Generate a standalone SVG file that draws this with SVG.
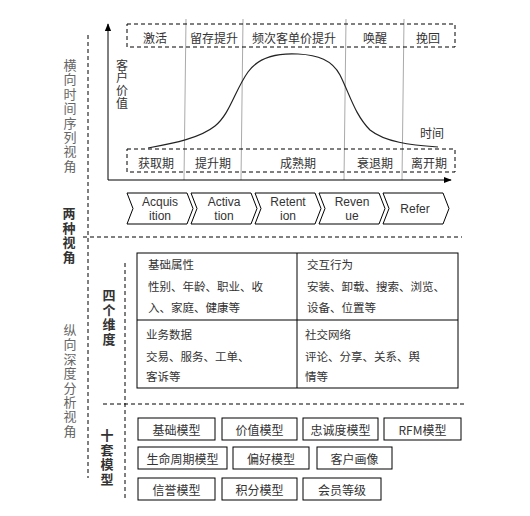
<svg xmlns="http://www.w3.org/2000/svg" width="530" height="516" viewBox="0 0 530 516">
<defs>
<marker id="ah" viewBox="0 0 10 10" refX="9" refY="5" markerWidth="8" markerHeight="8" markerUnits="userSpaceOnUse" orient="auto">
<path d="M0,1 L10,5 L0,9 Z" fill="#000"/>
</marker>
<style>
text{font-family:"Noto Sans CJK SC","Noto Sans",sans-serif;dominant-baseline:central;}
.t{font-size:12px;fill:#333;text-anchor:middle;}
.tl{font-size:11.5px;fill:#333;}
.v{writing-mode:vertical-rl;text-anchor:start;}
.side{font-size:13px;fill:#666;letter-spacing:1.4px;}
.bold{font-size:13px;fill:#333;font-weight:bold;letter-spacing:1.6px;}
.en{font-family:"Liberation Sans",Arial,sans-serif;font-size:12px;fill:#333;text-anchor:middle;}
.dash{fill:none;stroke:#000;stroke-width:1;stroke-dasharray:4,3;}
.box{fill:#fff;stroke:#000;stroke-width:1;}
.gray{stroke:#aaa;stroke-width:1;fill:none;}
</style>
</defs>
<rect width="530" height="516" fill="#fff"/>

<g id="guides">
<line class="dash" x1="88" y1="35" x2="88" y2="478"/>
<line class="dash" x1="83" y1="237" x2="462" y2="237"/>
<line class="dash" x1="103" y1="404" x2="465" y2="404"/>
<line class="dash" x1="125" y1="263" x2="125" y2="498"/>
</g>

<g id="side-labels">
<text class="v side" x="70" y="58.5">横向时间序列视角</text>
<text class="v side" x="70" y="323.5">纵向深度分析视角</text>
<text class="v bold" x="69" y="206.5">两种视角</text>
<text class="v bold" x="109" y="288.5">四个维度</text>
<text class="v bold" x="107" y="428.5">十套模型</text>
</g>

<g id="chart">
<line class="gray" x1="186" y1="19" x2="184" y2="180"/>
<line class="gray" x1="243" y1="19" x2="241" y2="180"/>
<line class="gray" x1="346" y1="19" x2="344" y2="180"/>
<line class="gray" x1="404" y1="19" x2="402" y2="180"/>
<rect class="dash" x="127" y="24" width="328" height="23"/>
<rect class="dash" x="127" y="149" width="328" height="23"/>
<path d="M148,148 C175,143 200,138 215,126 C230,114 235,90 248,72 C260,55 280,53 298,54 C318,55 332,60 340,75 C350,95 355,115 370,130 C385,142 410,145 438,147" fill="none" stroke="#222" stroke-width="1.2"/>
<g class="t">
<text x="155" y="37">激活</text>
<text x="214" y="37">留存提升</text>
<text x="294" y="37">频次客单价提升</text>
<text x="375" y="37">唤醒</text>
<text x="428" y="37">挽回</text>
<text x="156" y="162">获取期</text>
<text x="213" y="162">提升期</text>
<text x="298" y="162">成熟期</text>
<text x="375" y="162">衰退期</text>
<text x="429" y="162">离开期</text>
<text x="432" y="132">时间</text>
</g>
<text class="v" x="122" y="59" style="font-size:12px;fill:#333;letter-spacing:0.8px">客户价值</text>
</g>

<g id="connectors">
<line x1="108" y1="180" x2="108" y2="24" stroke="#000" stroke-width="1" marker-end="url(#ah)"/>
<line x1="108" y1="180" x2="451" y2="180" stroke="#000" stroke-width="1" marker-end="url(#ah)"/>
</g>

<g id="stages">
<g id="s1"><path class="box" d="M127,193 L187,193 L193,208.5 L187,224 L127,224 L133,208.5 Z"/><text class="en" x="160" y="201.5">Acquis<tspan x="160" dy="14.5">ition</tspan></text></g>
<g id="s2"><path class="box" d="M191,193 L251,193 L257,208.5 L251,224 L191,224 L197,208.5 Z"/><text class="en" x="224" y="201.5">Activa<tspan x="224" dy="14.5">tion</tspan></text></g>
<g id="s3"><path class="box" d="M255,193 L315,193 L321,208.5 L315,224 L255,224 L261,208.5 Z"/><text class="en" x="288" y="201.5">Retent<tspan x="288" dy="14.5">ion</tspan></text></g>
<g id="s4"><path class="box" d="M319,193 L379,193 L385,208.5 L379,224 L319,224 L325,208.5 Z"/><text class="en" x="352" y="201.5">Reven<tspan x="352" dy="14.5">ue</tspan></text></g>
<g id="s5"><path class="box" d="M383,193 L443,193 L449,208.5 L443,224 L383,224 L389,208.5 Z"/><text class="en" x="415" y="209">Refer</text></g>
</g>

<g id="dimensions">
<rect class="box" x="137" y="253" width="321" height="135"/>
<line x1="297" y1="253" x2="297" y2="388" stroke="#000"/>
<line x1="137" y1="320" x2="458" y2="320" stroke="#000"/>
<g class="tl">
<text x="148" y="264">基础属性</text>
<text x="148" y="286">性别、年龄、职业、收</text>
<text x="148" y="307">入、家庭、健康等</text>
<text x="146" y="334">业务数据</text>
<text x="146" y="356">交易、服务、工单、</text>
<text x="146" y="376">客诉等</text>
<text x="307" y="264">交互行为</text>
<text x="307" y="286">安装、卸载、搜索、浏览、</text>
<text x="307" y="307">设备、位置等</text>
<text x="305" y="334">社交网络</text>
<text x="305" y="356">评论、分享、关系、舆</text>
<text x="305" y="376">情等</text>
</g>
</g>

<g id="models">
<g id="m1"><rect class="box" x="138" y="418" width="77" height="22"/><text class="t" x="176.5" y="429">基础模型</text></g>
<g id="m2"><rect class="box" x="222" y="418" width="75" height="22"/><text class="t" x="259.5" y="429">价值模型</text></g>
<g id="m3"><rect class="box" x="303" y="418" width="75" height="22"/><text class="t" x="340.5" y="429">忠诚度模型</text></g>
<g id="m4"><rect class="box" x="384" y="418" width="77" height="22"/><text class="t" x="422.5" y="429">RFM模型</text></g>
<g id="m5"><rect class="box" x="138" y="447" width="89" height="22"/><text class="t" x="182.5" y="458">生命周期模型</text></g>
<g id="m6"><rect class="box" x="233" y="447" width="76" height="22"/><text class="t" x="271" y="458">偏好模型</text></g>
<g id="m7"><rect class="box" x="317" y="447" width="75" height="22"/><text class="t" x="354.5" y="458">客户画像</text></g>
<g id="m8"><rect class="box" x="138" y="478" width="77" height="22"/><text class="t" x="176.5" y="489">信誉模型</text></g>
<g id="m9"><rect class="box" x="222" y="478" width="75" height="22"/><text class="t" x="259.5" y="489">积分模型</text></g>
<g id="m10"><rect class="box" x="303" y="478" width="78" height="22"/><text class="t" x="342" y="489">会员等级</text></g>
</g>
</svg>
